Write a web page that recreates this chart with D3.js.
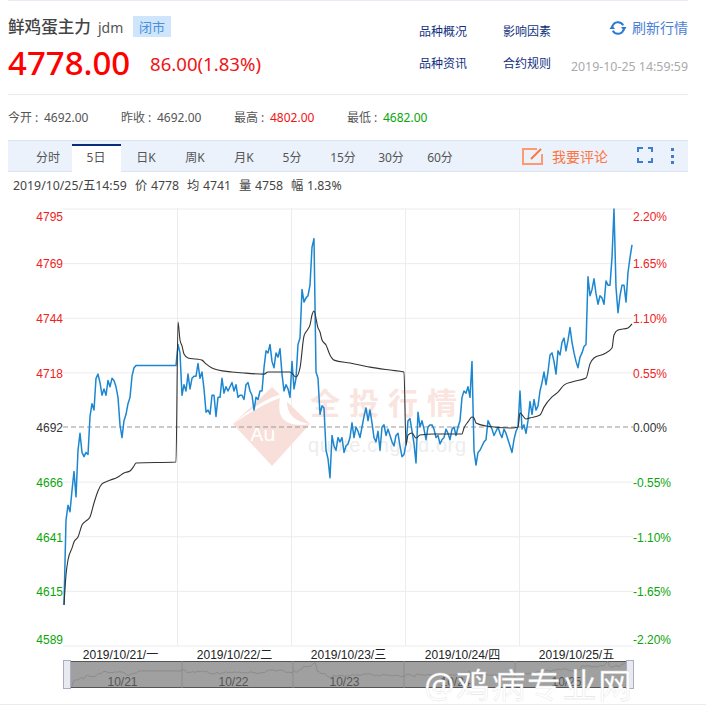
<!DOCTYPE html>
<html>
<head>
<meta charset="utf-8">
<script src="https://cdn.jsdelivr.net/npm/d3@7"></script>
<style>
  html, body { margin: 0; padding: 0; background: #fff; overflow: hidden; }
  svg { display: block; }
  text { font-family: "Noto Sans", "Noto Sans CJK SC", sans-serif; }
  .arial text, text.arial { font-family: "Liberation Sans", "Noto Sans CJK SC", sans-serif; }
</style>
</head>
<body>
<svg id="chart" width="706" height="707"></svg>
<script>
const baseClose = 4692;
const pctTicks = [2.2, 1.65, 1.1, 0.55, 0, -0.55, -1.1, -1.65, -2.2];
const priceLabels = ["4795", "4769", "4744", "4718", "4692", "4666", "4641", "4615", "4589"];
const dateLabels = ["2019/10/21/一", "2019/10/22/二", "2019/10/23/三", "2019/10/24/四", "2019/10/25/五"];
const miniLabels = ["10/21", "10/22", "10/23", "10/24", "10/25"];

// price, one reading per 2px of the picture, 57 readings a day
const priceDay1 = [4608, 4648, 4655, 4652, 4662, 4671, 4659, 4681, 4689, 4680, 4678, 4680, 4679, 4697, 4703, 4700, 4715, 4717, 4713, 4707, 4710, 4707, 4714, 4711, 4715, 4714, 4711, 4706, 4693, 4687, 4695, 4698, 4703, 4706, 4716, 4720,
  4721, 4721, 4721, 4721, 4721, 4721, 4721, 4721, 4721, 4721, 4721, 4721, 4721, 4721, 4721, 4721, 4721, 4721, 4721, 4721, 4721];
const priceDay2 = [4731, 4727, 4707, 4712, 4709, 4717, 4710, 4715, 4716, 4716, 4722, 4715, 4718, 4710, 4699, 4700, 4698, 4707, 4707, 4697, 4706, 4706, 4715, 4708, 4711, 4709, 4711, 4713, 4709, 4712, 4706, 4707, 4707, 4705, 4712, 4713, 4709, 4707, 4700, 4706, 4705, 4709, 4709, 4720, 4728, 4727, 4731, 4723, 4720, 4727, 4725, 4729, 4717, 4709, 4712, 4710, 4706];
const priceDay3 = [4723, 4710, 4715, 4731, 4734, 4757, 4751, 4753, 4754, 4759, 4777, 4781, 4718, 4715, 4698, 4702, 4701, 4681, 4677, 4668, 4688, 4683, 4681, 4687, 4685, 4687, 4680, 4683, 4684, 4687, 4694, 4687, 4692, 4690, 4687, 4692, 4697, 4701, 4695, 4700, 4694, 4687, 4685, 4690, 4681, 4692, 4693, 4688, 4691, 4688, 4685, 4683, 4688, 4689, 4683, 4678, 4679];
const priceDay4 = [4684, 4695, 4696, 4690, 4684, 4675, 4699, 4692, 4695, 4691, 4686, 4692, 4693, 4693, 4691, 4687, 4688, 4684, 4686, 4687, 4691, 4689, 4686, 4691, 4692, 4688, 4692, 4695, 4706, 4709, 4708, 4711, 4706, 4723, 4681, 4674, 4680, 4681, 4683, 4685, 4686, 4695, 4693, 4691, 4688, 4690, 4692, 4689, 4687, 4691, 4689, 4686, 4683, 4680, 4686, 4690, 4692];
const priceDay5 = [4709, 4691, 4693, 4689, 4695, 4704, 4698, 4705, 4700, 4702, 4709, 4713, 4718, 4712, 4718, 4726, 4727, 4723, 4717, 4728, 4726, 4732, 4734, 4728, 4733, 4739, 4732, 4727, 4723, 4720, 4725, 4727, 4730, 4731, 4763, 4754, 4757, 4762, 4755, 4750, 4754, 4753, 4750, 4761, 4759, 4759, 4772, 4795, 4758, 4746, 4754, 4759, 4759, 4751, 4765, 4772, 4778];

// average price, smooth so only read at the sample numbers in avgIndex
const avgIndex = [0, 1, 2, 4, 5, 7, 9, 11, 13, 15, 17, 19, 22, 27, 30, 33, 35, 36, 56,
  57, 58, 59, 60, 62, 66, 69, 71, 74, 77, 84, 90, 100, 102, 113,
  116, 118, 120, 122, 123, 124, 125, 127, 128, 129, 131, 133, 135, 143, 153, 163, 170,
  171, 172, 174, 176, 178, 185, 199, 200, 202, 204, 205, 206, 211, 224, 227,
  228, 231, 233, 238, 240, 244, 247, 250, 254, 261, 263, 265, 270, 274, 275, 277, 282, 284];
const avgValues = [4607.9, 4622.1, 4629.2, 4634.8, 4637.7, 4640, 4645.7, 4647.6, 4649.5, 4656.1, 4661.8, 4665.1, 4666.5, 4668.4, 4670.3, 4671.2, 4673.6, 4675, 4675.5,
  4741.6, 4733.1, 4730.3, 4726.5, 4724.6, 4724.1, 4723.6, 4721.8, 4719.9, 4718.9, 4718, 4717.5, 4717, 4718, 4718,
  4715.6, 4719.9, 4735, 4738.3, 4740.2, 4744.9, 4746.8, 4738.8, 4736.9, 4733.1, 4730.7, 4726, 4723.6, 4722.2, 4720.3, 4718.9, 4718,
  4683.5, 4688.2, 4689.2, 4686.8, 4688.2, 4688.7, 4688.7, 4691.5, 4694.4, 4696.7, 4696.3, 4693.9, 4692.5, 4691.5, 4692,
  4698.6, 4695.8, 4696.3, 4697.7, 4701.4, 4706.2, 4708.5, 4711.8, 4713.3, 4715.1, 4721.8, 4724.6, 4726.5, 4729.3, 4735.5, 4737.8, 4738.8, 4740.7];

const price = [].concat(priceDay1, priceDay2, priceDay3, priceDay4, priceDay5);
const samplesPerDay = 57;

const red = "#f01414", green = "#0aa50a", grey = "#555";
const svg = d3.select("#chart");

// ---- page furniture
function label(x, y, str, size, color, anchor) {
  return svg.append("text")
    .attr("x", x)
    .attr("y", y)
    .attr("font-size", size)
    .attr("fill", color)
    .attr("text-anchor", anchor || "start")
    .text(str);
}
function hline(y, color) {
  svg.append("rect").attr("x", 8).attr("y", y).attr("width", 680).attr("height", 1).attr("fill", color);
}

hline(0, "#e6ecf5");
hline(94, "#ececec");

label(8, 33, "鲜鸡蛋主力", 16.6, "#444").attr("font-weight", 500);
label(98, 33, "jdm", 14, "#555");
svg.append("rect").attr("x", 133).attr("y", 16).attr("width", 38).attr("height", 21).attr("fill", "#cfe5fb");
label(139, 32, "闭市", 13, "#4a90d9");
label(8, 75, "4778.00", 33, "#ff0000").attr("font-weight", 500);
label(150, 71, "86.00(1.83%)", 18.6, "#f01414");

label(419, 36, "品种概况", 12, "#12307f");
label(503, 36, "影响因素", 12, "#12307f");
label(419, 68, "品种资讯", 12, "#12307f");
label(503, 68, "合约规则", 12, "#12307f");
label(688, 33, "刷新行情", 14, "#4b80d6", "end");
label(688, 71, "2019-10-25 14:59:59", 12.4, "#aaa", "end");

// refresh icon
const refreshArc = d3.arc().innerRadius(4.8).outerRadius(6.8);
const refresh = svg.append("g").attr("transform", "translate(618,28)").attr("fill", "#2c78d4");
refresh.append("path").attr("d", refreshArc({ startAngle: -1.3, endAngle: 1.1 }));
refresh.append("path").attr("d", refreshArc({ startAngle: 1.85, endAngle: 4.25 }));
refresh.append("path").attr("d", "M3,-1 L8.5,-1 L6,3 Z M-3,1 L-8.5,1 L-6,-3 Z");

// stats row
const stats = [
  [8, "今开 :", "4692.00", grey],
  [121, "昨收 :", "4692.00", grey],
  [234, "最高 :", "4802.00", red],
  [347, "最低 :", "4682.00", green],
];
stats.forEach((s) => {
  label(s[0], 122, s[1], 12, grey);
  label(s[0] + 36, 122, s[2], 12, s[3]);
});

// tabs
svg.append("rect").attr("x", 8).attr("y", 140).attr("width", 680).attr("height", 32).attr("fill", "#ebf2fc");
hline(140, "#dbe4f0");
hline(171, "#dbe4f0");
svg.append("rect").attr("x", 72).attr("y", 144).attr("width", 49).attr("height", 28).attr("fill", "#fff");
svg.append("rect").attr("x", 72).attr("y", 144).attr("width", 49).attr("height", 2).attr("fill", "#0b2a7b");
const tabs = [[48, "分时"], [96, "5日"], [146, "日K"], [195, "周K"], [244, "月K"], [292, "5分"], [343, "15分"], [391, "30分"], [440, "60分"]];
tabs.forEach((t) => label(t[0], 162, t[1], 12, grey, "middle"));

label(552, 162, "我要评论", 14, "#ff7440");
svg.append("path")
  .attr("d", "M537,149 H523 V164 H542 V154")
  .attr("fill", "none")
  .attr("stroke", "#ff9a70")
  .attr("stroke-width", 2);
svg.append("path").attr("d", "M531,159 L541,149").attr("stroke", "#ff7440").attr("stroke-width", 2);
svg.append("path")
  .attr("d", "M638,152 V148 H643 M648,148 H652 V152 M652,158 V162 H648 M643,162 H638 V158")
  .attr("fill", "none")
  .attr("stroke", "#3f7ccc")
  .attr("stroke-width", 2);
svg.selectAll(".dot")
  .data([148, 155, 161])
  .enter()
  .append("rect")
  .attr("class", "dot")
  .attr("x", 671)
  .attr("y", (d) => d)
  .attr("width", 3)
  .attr("height", 3)
  .attr("fill", "#3f7ccc");

// info row
const info = [[13, "2019/10/25/五14:59"], [135, "价"], [151, "4778"], [187, "均"], [203, "4741"], [239, "量"], [255, "4758"], [291, "幅"], [307, "1.83%"]];
info.forEach((t) => label(t[0], 190, t[1], 12.3, "#444"));

// ---- scales
const x = d3.scaleLinear().domain([0, 5]).range([63, 633]);
const yPct = d3.scaleLinear().domain([-2.2, 2.2]).range([645.5, 208.5]);
const y = d3.scaleLinear()
  .domain([baseClose * (1 - 0.022), baseClose * (1 + 0.022)])
  .range([645.5, 208.5]);
const sampleX = (i) => x((i + 0.5) / samplesPerDay);

// grid
const grid = svg.append("g")
  .attr("transform", "translate(63,0)")
  .call(d3.axisLeft(yPct).tickValues(pctTicks.filter((d) => d !== 0)).tickSize(-570).tickFormat(""));
grid.select(".domain").remove();
grid.selectAll("line").attr("stroke", "#ececec");

const vgrid = svg.append("g")
  .attr("transform", "translate(0,645.5)")
  .call(d3.axisBottom(x).tickValues([1, 2, 3, 4]).tickSize(-437).tickFormat(""));
vgrid.select(".domain").remove();
vgrid.selectAll("line").attr("stroke", "#ececec");

// site watermark sits under the lines
const mark = svg.append("g");
mark.append("path").attr("d", "M272,387 L310,424 L272,466 L233,424 Z").attr("fill", "#f8dfda");
mark.append("path")
  .attr("d", "M233,424 Q262,404 280,398 Q274,430 310,424 Q282,420 288,392 Q262,398 233,424 Z")
  .attr("fill", "#fff");
mark.append("text").attr("x", 263).attr("y", 441).attr("font-size", 20).attr("fill", "#fff").attr("text-anchor", "middle").text("Au");
mark.append("text")
  .attr("x", 310)
  .attr("y", 414)
  .attr("font-size", 30)
  .attr("font-weight", 700)
  .attr("letter-spacing", 9)
  .attr("fill", "#f9e4e0")
  .text("全投行情");
mark.append("text")
  .attr("class", "arial")
  .attr("x", 308)
  .attr("y", 452)
  .attr("font-size", 20)
  .attr("letter-spacing", 0.6)
  .attr("fill", "#ededed")
  .text("quote.cngold.org");

// zero line
svg.append("line")
  .attr("x1", x(0))
  .attr("x2", x(5))
  .attr("y1", yPct(0))
  .attr("y2", yPct(0))
  .attr("stroke", "#999")
  .attr("stroke-dasharray", "5,3");

// ---- axes
function tickColor(p) {
  return p > 0 ? "#ee2222" : p < 0 ? "#0aa50a" : "#333";
}
function styleAxis(g) {
  g.select(".domain").remove();
  g.selectAll("line").remove();
  g.attr("class", "arial").attr("font-size", 12);
  g.selectAll("text")
    .attr("fill", (d, i) => tickColor(pctTicks[i]))
    .attr("dy", (d, i) => (i === 0 ? "1em" : i === pctTicks.length - 1 ? "-0.2em" : "0.4em"));
}
svg.append("g")
  .attr("transform", "translate(63,0)")
  .call(d3.axisLeft(yPct)
    .tickValues(pctTicks)
    .tickSize(0)
    .tickPadding(0)
    .tickFormat((d, i) => priceLabels[i]))
  .call(styleAxis);
svg.append("g")
  .attr("transform", "translate(633,0)")
  .call(d3.axisRight(yPct)
    .tickValues(pctTicks)
    .tickSize(0)
    .tickPadding(0)
    .tickFormat((d) => d.toFixed(2) + "%"))
  .call(styleAxis);

const dateAxis = svg.append("g")
  .attr("transform", "translate(0,646)")
  .call(d3.axisBottom(x)
    .tickValues([0.5, 1.5, 2.5, 3.5, 4.5])
    .tickSize(0)
    .tickPadding(0)
    .tickFormat((d, i) => dateLabels[i]));
dateAxis.select(".domain").remove();
dateAxis.attr("class", "arial").attr("font-size", 12);
dateAxis.selectAll("text").attr("fill", "#222").attr("dy", "1.05em");

// ---- lines
const priceLine = d3.line()
  .x((d, i) => sampleX(i))
  .y((d) => y(d));
svg.append("path")
  .attr("d", priceLine(price))
  .attr("fill", "none")
  .attr("stroke", "#1c87d0")
  .attr("stroke-width", 1.5)
  .attr("stroke-linejoin", "round");

const avgLine = d3.line()
  .x((d, i) => sampleX(avgIndex[i]))
  .y((d) => y(d))
  .curve(d3.curveMonotoneX);
svg.append("path")
  .attr("d", avgLine(avgValues))
  .attr("fill", "none")
  .attr("stroke", "#333")
  .attr("stroke-width", 1.1);

// ---- range slider
const x2 = d3.scaleLinear().domain([0, 5]).range([71, 626]);
const y2 = d3.scaleLinear().domain([4608, 4795]).range([686, 661]);
svg.append("rect").attr("x", 70).attr("y", 661).attr("width", 557).attr("height", 27).attr("fill", "#a0a0a0");
svg.append("rect").attr("x", 70).attr("y", 661).attr("width", 557).attr("height", 1).attr("fill", "#555");
svg.append("rect").attr("x", 70).attr("y", 687).attr("width", 557).attr("height", 1).attr("fill", "#555");
svg.selectAll(".mini-sep")
  .data([1, 2, 3, 4])
  .enter()
  .append("line")
  .attr("class", "mini-sep")
  .attr("x1", (d) => x2(d))
  .attr("x2", (d) => x2(d))
  .attr("y1", 661)
  .attr("y2", 688)
  .attr("stroke", "#8c8c8c");
svg.append("path")
  .attr("d", d3.line().x((d, i) => x2((i + 0.5) / samplesPerDay)).y((d) => y2(d))(price))
  .attr("fill", "none")
  .attr("stroke", "#828282")
  .attr("stroke-width", 0.7);
svg.selectAll(".mini-label")
  .data(miniLabels)
  .enter()
  .append("text")
  .attr("class", "mini-label arial")
  .attr("x", (d, i) => x2(i + 0.5) - 4)
  .attr("y", 686)
  .attr("font-size", 12)
  .attr("text-anchor", "middle")
  .attr("fill", "#555")
  .text((d) => d);
svg.selectAll(".handle")
  .data([63.5, 626.5])
  .enter()
  .append("rect")
  .attr("class", "handle")
  .attr("x", (d) => d)
  .attr("y", 660.5)
  .attr("width", 7)
  .attr("height", 28)
  .attr("fill", "#e9e9f0")
  .attr("stroke", "#a8acc4");

// repost stamp across the bottom right, white with a faint edge
svg.append("rect").attr("x", 0).attr("y", 704).attr("width", 706).attr("height", 1).attr("fill", "#ececec");
svg.append("text")
  .attr("x", 424)
  .attr("y", 698)
  .attr("font-size", 34)
  .attr("letter-spacing", 1.5)
  .attr("fill", "#fff")
  .attr("stroke", "#d8d8d8")
  .attr("stroke-width", 0.3)
  .text("@鸡病专业网");
</script>
</body>
</html>
